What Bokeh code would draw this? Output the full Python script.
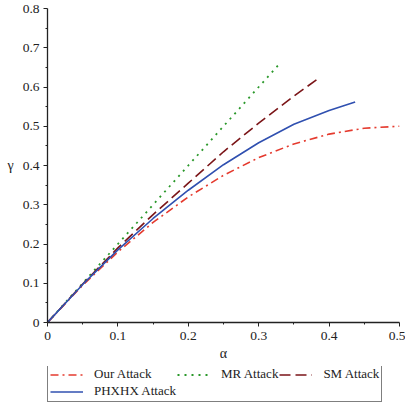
from bokeh.plotting import figure
from bokeh.models import Legend, LegendItem, FixedTicker
from bokeh.layouts import column
from bokeh.embed import file_html
from bokeh.resources import INLINE

# data
our_alpha = [0, 0.05, 0.1, 0.15, 0.2, 0.25, 0.3, 0.35, 0.4, 0.45, 0.5]
our_gamma = [0, 0.095, 0.18, 0.255, 0.32, 0.375, 0.42, 0.455, 0.48, 0.495, 0.5]

mr_alpha = [0, 0.05, 0.1, 0.15, 0.2, 0.25, 0.3, 0.332]
mr_gamma = [0, 0.1, 0.2, 0.3, 0.4, 0.5, 0.6, 0.664]

sm_alpha = [0, 0.05, 0.1, 0.15, 0.2, 0.25, 0.3, 0.35, 0.382]
sm_gamma = [0, 0.098, 0.19, 0.275, 0.355, 0.435, 0.508, 0.577, 0.618]

ph_alpha = [0, 0.05, 0.1, 0.15, 0.2, 0.25, 0.3, 0.35, 0.4, 0.437]
ph_gamma = [0, 0.097, 0.185, 0.265, 0.337, 0.402, 0.458, 0.505, 0.540, 0.562]

series_names = ["Our Attack", "MR Attack", "SM Attack", "PHXHX Attack"]

x_ticks = [0, 0.1, 0.2, 0.3, 0.4, 0.5]
x_tick_labels = ["0", "0.1", "0.2", "0.3", "0.4", "0.5"]
x_minor = [0.05, 0.15, 0.25, 0.35, 0.45]
y_ticks = [0, 0.1, 0.2, 0.3, 0.4, 0.5, 0.6, 0.7, 0.8]
y_tick_labels = ["0", "0.1", "0.2", "0.3", "0.4", "0.5", "0.6", "0.7", "0.8"]
y_minor = [0.05, 0.15, 0.25, 0.35, 0.45, 0.55, 0.65, 0.75]

FONT = "Liberation Serif"
styles = [dict(line_color="#e53b2f", line_width=1.6, line_dash="8 4 2 4"),
          dict(line_color="#2a982a", line_width=1.8, line_dash="2 5"),
          dict(line_color="#7b1518", line_width=1.6, line_dash="11 5"),
          dict(line_color="#3050b0", line_width=1.6)]
all_x = [our_alpha, mr_alpha, sm_alpha, ph_alpha]
all_y = [our_gamma, mr_gamma, sm_gamma, ph_gamma]

p = figure(frame_width=352, frame_height=314, x_range=(0, 0.5), y_range=(0, 0.8),
           output_backend="svg", toolbar_location=None,
           min_border_left=47, min_border_right=6, min_border_top=8, min_border_bottom=44)
p.outline_line_color = None
p.xgrid.visible = False
p.ygrid.visible = False
p.background_fill_color = "white"
p.border_fill_color = "white"

for xs, ys, st in zip(all_x, all_y, styles):
    p.line(xs, ys, **st)

for ax, ticks, labels, minor, lab in [(p.xaxis[0], x_ticks, x_tick_labels, x_minor, "α"),
                                     (p.yaxis[0], y_ticks, y_tick_labels, y_minor, "γ")]:
    ax.ticker = FixedTicker(ticks=ticks, minor_ticks=minor)
    ax.major_label_overrides = {t: l for t, l in zip(ticks, labels)}
    ax.axis_label = lab
    ax.axis_label_text_font = FONT
    ax.axis_label_text_font_size = "14px"
    ax.axis_label_text_font_style = "normal"
    ax.major_label_text_font = FONT
    ax.major_label_text_font_size = "13.5px"
    ax.major_label_text_color = "#222222"
    ax.axis_label_text_color = "#222222"
    ax.axis_line_color = "#222222"
    ax.axis_line_width = 1.3
    ax.major_tick_line_color = "#222222"
    ax.minor_tick_line_color = "#222222"
    ax.major_tick_in = 0
    ax.major_tick_out = 4
    ax.minor_tick_in = 0
    ax.minor_tick_out = 2
    ax.major_label_standoff = 4

p.xaxis[0].major_label_standoff = 5
p.xaxis[0].axis_label_standoff = 3
p.yaxis[0].axis_label_standoff = 6
try:
    p.yaxis[0].axis_label_orientation = "horizontal"
except Exception:
    pass

# strip below the plot that carries the legend (its curves lie outside its view)
lf = figure(width=405, height=37, x_range=(2, 3), y_range=(2, 3),
            output_backend="svg", toolbar_location=None,
            x_axis_type=None, y_axis_type=None,
            min_border_left=0, min_border_right=0, min_border_top=0, min_border_bottom=0)
lf.outline_line_color = None
lf.xgrid.visible = False
lf.ygrid.visible = False
lf.background_fill_color = "white"
lf.border_fill_color = "white"
items = []
for name, xs, ys, st in zip(series_names, all_x, all_y, styles):
    r = lf.line(xs, ys, **st)
    items.append(LegendItem(label=name, renderers=[r]))

legend = Legend(items=items, orientation="horizontal", ncols=3, location=(0, 1))
legend.label_text_font = FONT
legend.label_text_font_size = "13px"
legend.label_text_color = "#222222"
legend.border_line_color = "black"
legend.border_line_width = 1
legend.background_fill_alpha = 1
legend.glyph_width = 33
legend.glyph_height = 15
legend.label_height = 15
legend.label_standoff = 11
legend.spacing = 1
legend.padding = 2
legend.margin = 0
lf.add_layout(legend, "center")

layout = column(p, lf, spacing=0)
open("out.html", "w").write(file_html(layout, INLINE))
